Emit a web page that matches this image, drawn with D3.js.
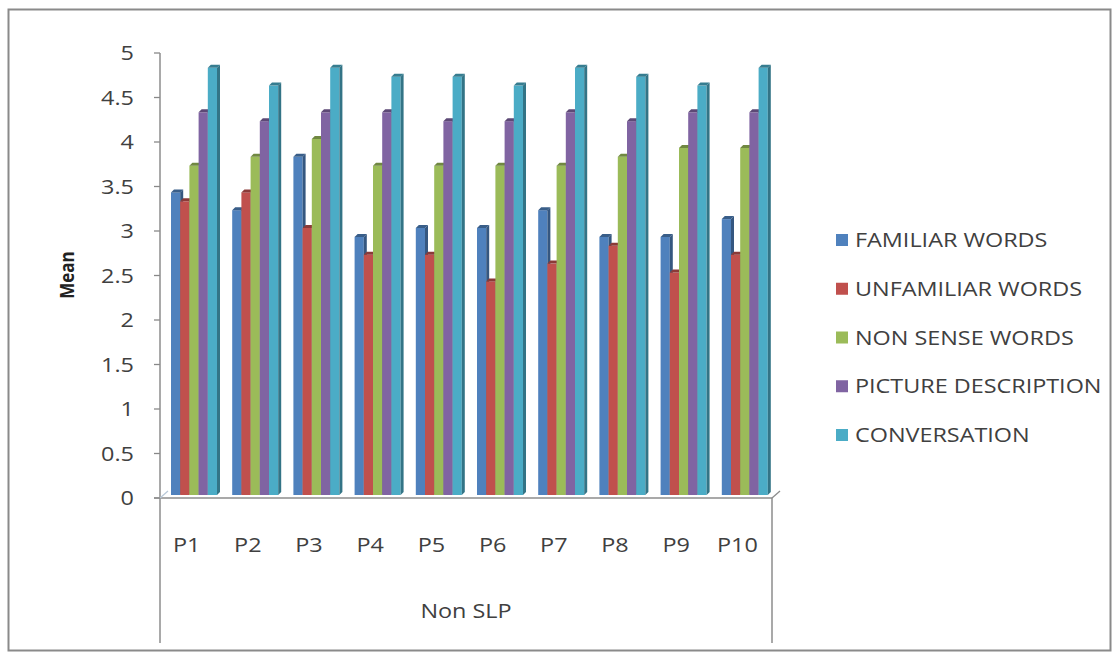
<!DOCTYPE html>
<html>
<head>
<meta charset="utf-8">
<script src="https://cdn.jsdelivr.net/npm/d3@7"></script>
<style>
  html, body { margin: 0; padding: 0; background: #fff; }
  svg { display: block; }
  text { font-family: "Open Sans", "Liberation Sans", sans-serif; fill: #404040; }
</style>
</head>
<body>
<svg id="chart" width="1118" height="659"></svg>
<script>
// Participants (non-SLP group) and mean ratings per speech task
const participants = ["P1", "P2", "P3", "P4", "P5", "P6", "P7", "P8", "P9", "P10"];
const seriesNames = ["FAMILIAR WORDS", "UNFAMILIAR WORDS", "NON SENSE WORDS", "PICTURE DESCRIPTION", "CONVERSATION"];
const familiarWords   = [3.4, 3.2, 3.8, 2.9, 3.0, 3.0, 3.2, 2.9, 2.9, 3.1];
const unfamiliarWords = [3.3, 3.4, 3.0, 2.7, 2.7, 2.4, 2.6, 2.8, 2.5, 2.7];
const nonSenseWords   = [3.7, 3.8, 4.0, 3.7, 3.7, 3.7, 3.7, 3.8, 3.9, 3.9];
const pictureDesc     = [4.3, 4.2, 4.3, 4.3, 4.2, 4.2, 4.3, 4.2, 4.3, 4.3];
const conversation    = [4.8, 4.6, 4.8, 4.7, 4.7, 4.6, 4.8, 4.7, 4.6, 4.8];
const yTicks = [0, 0.5, 1, 1.5, 2, 2.5, 3, 3.5, 4, 4.5, 5];
const groupLabel = "Non SLP";
const yTitle = "Mean";

const seriesValues = [familiarWords, unfamiliarWords, nonSenseWords, pictureDesc, conversation];
const colors = ["#4F81BD", "#C0504D", "#9BBB59", "#8064A2", "#4BACC6"];

const svg = d3.select("#chart");
const fontSize = 19.5, stretch = 1.2;

// text with the slightly wide lettering used throughout the chart
function wideText(parent, tx, ty, str, anchor, size) {
  return parent.append("g").attr("transform", `translate(${tx},${ty})`)
    .append("text")
    .attr("transform", `scale(${stretch},1)`)
    .attr("dy", "0.36em").attr("text-anchor", anchor)
    .style("font-size", (size || fontSize) + "px")
    .text(str);
}

// outer chart frame
svg.append("rect")
  .attr("x", 8.5).attr("y", 9.5).attr("width", 1102).attr("height", 641)
  .attr("fill", "#fff").attr("stroke", "#8a8a8a").attr("stroke-width", 2);

const plotLeft = 160, plotRight = 772, plotTop = 53, floorY = 498;
const depth = 3;

const x = d3.scaleBand().domain(participants).range([plotLeft, plotRight]);
const xs = d3.scaleBand().domain(d3.range(seriesNames.length))
  .range([11, 11 + 46]);
const y = d3.scaleLinear().domain([0, 5]).range([floorY, plotTop]);

// y axis ticks and labels
const yAxis = svg.append("g");
yAxis.selectAll("line.tick").data(yTicks).enter().append("line")
  .attr("x1", plotLeft - 6).attr("x2", plotLeft)
  .attr("y1", d => y(d)).attr("y2", d => y(d))
  .attr("stroke", "#888").attr("stroke-width", 1.3);
yTicks.forEach(t => wideText(yAxis, 134, y(t), String(t), "end"));

// bars: front face, top face and right side give a shallow 3D look
const barsG = svg.append("g");
participants.forEach((p, ci) => {
  seriesValues.forEach((vals, si) => {
    const v = vals[ci];
    const bw = xs.bandwidth();
    const x0 = x(p) + xs(si);
    const yb = floorY - depth;
    const yt = y(v) - depth;
    const base = d3.color(colors[si]);
    const g = barsG.append("g");
    g.append("rect")
      .attr("x", x0).attr("y", yt).attr("width", bw).attr("height", yb - yt)
      .attr("fill", base);
    g.append("polygon")
      .attr("points", [[x0, yt], [x0 + depth, yt - depth], [x0 + bw + depth, yt - depth], [x0 + bw, yt]].join(" "))
      .attr("fill", base.darker(0.9));
    g.append("polygon")
      .attr("points", [[x0 + bw, yt], [x0 + bw + depth, yt - depth], [x0 + bw + depth, yb - depth], [x0 + bw, yb]].join(" "))
      .attr("fill", base.darker(1.1));
  });
});

// axis lines
const axisColor = "#8c8c8c";
svg.append("line").attr("x1", plotLeft).attr("x2", plotLeft).attr("y1", plotTop).attr("y2", 643)
  .attr("stroke", axisColor).attr("stroke-width", 1.5);
svg.append("line").attr("x1", plotLeft - 6).attr("x2", plotRight).attr("y1", floorY).attr("y2", floorY)
  .attr("stroke", axisColor).attr("stroke-width", 1.5);
svg.append("line").attr("x1", plotRight).attr("x2", plotRight).attr("y1", floorY).attr("y2", 643)
  .attr("stroke", axisColor).attr("stroke-width", 1.5);
svg.append("line").attr("x1", plotRight).attr("x2", plotRight + 8).attr("y1", floorY).attr("y2", floorY - 7)
  .attr("stroke", axisColor).attr("stroke-width", 1.3);
svg.append("line").attr("x1", plotLeft).attr("x2", plotLeft + 8).attr("y1", floorY).attr("y2", floorY - 7)
  .attr("stroke", "#b8c8d8").attr("stroke-width", 1.2);

// category labels
const catG = svg.append("g");
participants.forEach(p => wideText(catG, x(p) + x.bandwidth() / 2 - 4, 545, p, "middle"));

wideText(svg, (plotLeft + plotRight) / 2, 611, groupLabel, "middle");

// y title
svg.append("text")
  .attr("transform", "translate(67,275) rotate(-90) scale(1,1.15)")
  .attr("dy", "0.36em").attr("text-anchor", "middle")
  .style("font-size", "17px").style("font-weight", "bold").style("fill", "#222")
  .text(yTitle);

// legend
const legend = svg.append("g");
const rowY = d3.scalePoint().domain(seriesNames).range([240, 435]);
seriesNames.forEach((name, i) => {
  legend.append("rect")
    .attr("x", 836).attr("y", rowY(name) - 6).attr("width", 12).attr("height", 12)
    .attr("fill", colors[i]);
  wideText(legend, 855, rowY(name), name, "start");
});
</script>
</body>
</html>
